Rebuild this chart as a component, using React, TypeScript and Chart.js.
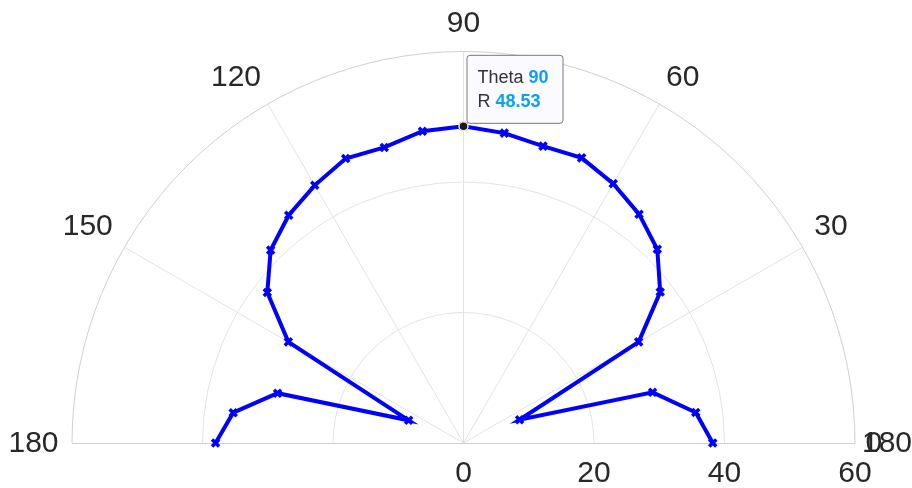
import React, { useEffect, useRef } from "react";
import { Chart, registerables } from "chart.js";
Chart.register(...registerables);

const thetaDeg = [0, 7.5, 15, 22.5, 30, 37.5, 45, 52.5, 60, 67.5, 75, 82.5, 90, 97.5, 105, 112.5, 120, 127.5, 135, 142.5, 150, 157.5, 165, 172.5, 180];
const rValues = [38.2, 35.9, 30.0, 9.3, 31.0, 38.0, 42.0, 44.2, 45.9, 47.3, 47.1, 47.9, 48.53, 48.2, 46.9, 47.2, 45.6, 44.0, 41.8, 37.9, 31.0, 9.1, 29.5, 35.6, 38.0];
const angleTicks = [0, 30, 60, 90, 120, 150, 180];
const angleLabels = ["0", "30", "60", "90", "120", "150", "180"];
const radialTicks = [0, 20, 40, 60];
const radialLabels = ["0", "20", "40", "60"];
const R_MAX = 60;
const activeIndex = 12;

const FONT = '"Liberation Sans", Arial, sans-serif';

const polarPlugin = {
  id: "polarGrid",
  beforeDatasetsDraw(chart: any) {
    const { ctx, scales } = chart;
    const cx = scales.x.getPixelForValue(0);
    const cy = scales.y.getPixelForValue(0);
    const k = scales.x.getPixelForValue(1) - cx;
    ctx.save();
    ctx.strokeStyle = "#e3e3e3";
    ctx.lineWidth = 1;
    angleTicks.forEach((a) => {
      if (a === 0 || a === 180) return;
      const t = (a * Math.PI) / 180;
      ctx.beginPath();
      ctx.moveTo(cx, cy);
      ctx.lineTo(cx + Math.cos(t) * R_MAX * k, cy - Math.sin(t) * R_MAX * k);
      ctx.stroke();
    });
    radialTicks.forEach((r) => {
      if (r === 0) return;
      ctx.beginPath();
      ctx.strokeStyle = r === R_MAX ? "#cfcfcf" : "#e3e3e3";
      ctx.arc(cx, cy, r * k, Math.PI, 2 * Math.PI);
      ctx.stroke();
    });
    ctx.strokeStyle = "#cfcfcf";
    ctx.beginPath();
    ctx.moveTo(cx - R_MAX * k, cy + 0.5);
    ctx.lineTo(cx + R_MAX * k, cy + 0.5);
    ctx.stroke();
    ctx.restore();
  },
  afterDraw(chart: any) {
    const { ctx, scales } = chart;
    const cx = scales.x.getPixelForValue(0);
    const cy = scales.y.getPixelForValue(0);
    const k = scales.x.getPixelForValue(1) - cx;
    ctx.save();
    ctx.font = `30px ${FONT}`;
    ctx.fillStyle = "#282828";
    angleTicks.forEach((a, i) => {
      const t = (a * Math.PI) / 180;
      const c = Math.cos(t), s = Math.sin(t);
      const d = R_MAX * k + 13.5;
      const ax = cx + c * d;
      const ay = cy - s * d;
      ctx.textAlign = Math.abs(c) < 0.01 ? "center" : c > 0 ? "left" : "right";
      if (s > 0.01) {
        ctx.textBaseline = "alphabetic";
        ctx.fillText(angleLabels[i], ax, ay - 6);
      } else {
        ctx.textBaseline = "middle";
        ctx.fillText(angleLabels[i], ax - (a === 0 ? 3 : 0), ay + 1);
      }
    });
    ctx.textAlign = "left";
    ctx.textBaseline = "middle";
    ctx.fillText("180", cx + R_MAX * k + 7, cy + 1);
    ctx.textAlign = "center";
    radialTicks.forEach((r, i) => {
      ctx.fillText(radialLabels[i], cx + r * k, cy + 31);
    });

    const el = chart.getDatasetMeta(0).data[activeIndex];
    if (el) {
      const px = el.x, py = el.y;
      ctx.beginPath();
      ctx.arc(px, py, 4.5, 0, 2 * Math.PI);
      ctx.fillStyle = "#1a1a1a";
      ctx.fill();
      ctx.lineWidth = 1.5;
      ctx.strokeStyle = "#f3efc8";
      ctx.stroke();

      const bx = px + 3.5, bw = 96, bh = 68, by = py - 3 - bh;
      ctx.beginPath();
      const rr = 3;
      ctx.moveTo(bx + rr, by);
      ctx.lineTo(bx + bw - rr, by);
      ctx.quadraticCurveTo(bx + bw, by, bx + bw, by + rr);
      ctx.lineTo(bx + bw, by + bh - rr);
      ctx.quadraticCurveTo(bx + bw, by + bh, bx + bw - rr, by + bh);
      ctx.lineTo(bx + rr, by + bh);
      ctx.quadraticCurveTo(bx, by + bh, bx, by + bh - rr);
      ctx.lineTo(bx, by + rr);
      ctx.quadraticCurveTo(bx, by, bx + rr, by);
      ctx.closePath();
      ctx.fillStyle = "#fafaff";
      ctx.fill();
      ctx.strokeStyle = "#7a7a7a";
      ctx.lineWidth = 1;
      ctx.stroke();

      ctx.textAlign = "left";
      ctx.textBaseline = "middle";
      const lines = [
        ["Theta", String(thetaDeg[activeIndex])],
        ["R", rValues[activeIndex].toFixed(2)],
      ];
      lines.forEach((ln, j) => {
        const ty = by + 23 + j * 24;
        ctx.font = `18px ${FONT}`;
        ctx.fillStyle = "#333333";
        ctx.fillText(ln[0], bx + 10.5, ty);
        const lw = ctx.measureText(ln[0] + " ").width;
        ctx.font = `bold 18px ${FONT}`;
        ctx.fillStyle = "#0aa0f5";
        ctx.fillText(ln[1], bx + 10.5 + lw, ty);
      });
    }
    ctx.restore();
  },
};

export default function App() {
  const ref = useRef<HTMLCanvasElement | null>(null);
  useEffect(() => {
    if (!ref.current) return;
    const points = thetaDeg.map((a, i) => {
      const t = (a * Math.PI) / 180;
      return { x: rValues[i] * Math.cos(t), y: rValues[i] * Math.sin(t) };
    });
    const chart = new Chart(ref.current, {
      type: "scatter",
      data: {
        datasets: [
          {
            data: points,
            showLine: true,
            borderColor: "#0000ff",
            backgroundColor: "#0000ff",
            borderWidth: 4,
            pointStyle: "crossRot",
            pointRadius: 5,
            pointBorderWidth: 3.5,
            pointBorderColor: "#0000ff",
            clip: false as any,
          },
        ],
      },
      options: {
        animation: false,
        responsive: false,
        events: [],
        layout: { padding: { left: 72, right: 57, top: 51.5, bottom: 45 } },
        plugins: { legend: { display: false }, tooltip: { enabled: false } },
        scales: {
          x: { type: "linear", min: -R_MAX, max: R_MAX, display: false },
          y: { type: "linear", min: 0, max: R_MAX, display: false },
        },
      },
      plugins: [polarPlugin],
    });
    return () => chart.destroy();
  }, []);
  return (
    <div style={{ position: "fixed", left: 0, top: 0, width: 912, height: 488, background: "#fff" }}>
      <canvas ref={ref} width={912} height={488} />
    </div>
  );
}
